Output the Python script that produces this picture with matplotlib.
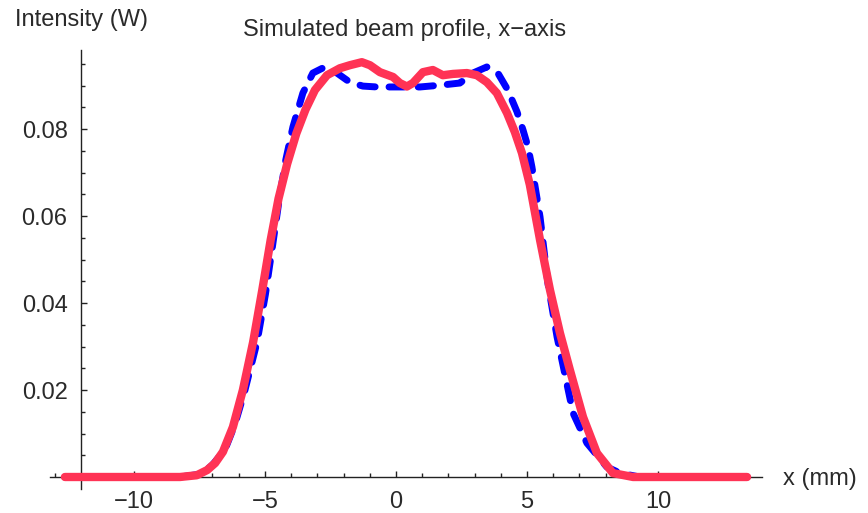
import numpy as np
import matplotlib
matplotlib.use("Agg")
import matplotlib.pyplot as plt
from matplotlib.ticker import MultipleLocator, FixedLocator

plt.rcParams['font.family'] = ['Liberation Sans', 'DejaVu Sans']

# measured profile (red, solid)
x_meas = [-12.63, -10.0, -8.24, -7.60, -7.20, -6.90, -6.60, -6.22, -5.84, -5.45,
          -5.10, -4.78, -4.48, -4.15, -3.80, -3.45, -3.09, -2.63, -2.14, -1.76,
          -1.30, -0.99, -0.61, -0.11, 0.15, 0.42, 0.65, 1.03, 1.41, 1.79,
          2.18, 2.71, 3.09, 3.47, 3.85, 4.24, 4.54, 4.81, 5.11, 5.50,
          5.88, 6.26, 6.64, 7.14, 7.67, 8.28, 9.05, 11.0, 13.4]
y_meas = [0.0, 0.0, 0.0, 0.0004, 0.0016, 0.0032, 0.0058, 0.0115, 0.0200, 0.0310,
          0.0430, 0.0545, 0.0640, 0.0720, 0.0790, 0.0845, 0.0890, 0.0924, 0.0940, 0.0947,
          0.0954, 0.0947, 0.0931, 0.0920, 0.0906, 0.0898, 0.0906, 0.0931, 0.0936, 0.0924,
          0.0927, 0.0929, 0.0924, 0.0908, 0.0883, 0.0837, 0.0793, 0.0745, 0.0672, 0.0545,
          0.0430, 0.0331, 0.0246, 0.0138, 0.0055, 0.0009, 0.0, 0.0, 0.0]

# simulated profile (blue, dashed)
x_sim = [-12.63, -10.0, -8.24, -7.40, -7.00, -6.53, -6.15, -5.76, -5.30, -4.98,
         -4.70, -4.45, -4.20, -3.93, -3.55, -3.17, -2.71, -2.25, -1.76, -1.26,
         -0.73, -0.11, 0.42, 0.92, 1.68, 2.44, 2.94, 3.47, 3.89, 4.27,
         4.62, 4.85, 5.04, 5.19, 5.50, 5.80, 6.15, 6.76, 7.29, 8.05,
         8.55, 9.3, 11.0, 13.4]
y_sim = [0.0, 0.0, 0.0, 0.0007, 0.0028, 0.0062, 0.0120, 0.0200, 0.0310, 0.0420,
         0.0535, 0.0640, 0.0730, 0.0805, 0.0883, 0.0929, 0.0943, 0.0929, 0.0908, 0.0899,
         0.0897, 0.0897, 0.0897, 0.0897, 0.0901, 0.0906, 0.0929, 0.0943, 0.0929, 0.0890,
         0.0840, 0.0798, 0.0759, 0.0713, 0.0598, 0.0446, 0.0322, 0.0147, 0.0078, 0.0023,
         0.0009, 0.0, 0.0, 0.0]

x_major = [-10, -5, 0, 5, 10]
x_labels = ["\u221210", "\u22125", "0", "5", "10"]
y_major = [0.02, 0.04, 0.06, 0.08]
y_labels = ["0.02", "0.04", "0.06", "0.08"]

text_color = '#2a2a2a'
fs = 17

fig = plt.figure(figsize=(8.68, 5.13), dpi=100)
ax = fig.add_axes([50 / 868, 1 - 489 / 513, 712 / 868, 439 / 513])
ax.set_xlim(-13.2, 13.97)
ax.set_ylim(-0.00276, 0.0982)

line_sim, = ax.plot(x_sim, y_sim, color='#0000FF', linewidth=5,
                    dash_capstyle='round', solid_capstyle='round',
                    dash_joinstyle='round', clip_on=False)
line_sim.set_dashes([2.2, 2.0])
ax.plot(x_meas, y_meas, color='#FF3355', linewidth=6,
        solid_capstyle='round', solid_joinstyle='round', clip_on=False)

for s in ['top', 'right']:
    ax.spines[s].set_visible(False)
ax.spines['left'].set_position(('data', -12))
ax.spines['bottom'].set_position(('data', 0))
for s in ['left', 'bottom']:
    ax.spines[s].set_color('#222222')
    ax.spines[s].set_linewidth(1.0)
    ax.spines[s].set_zorder(0.5)

ax.xaxis.set_major_locator(FixedLocator(x_major))
ax.set_xticklabels(x_labels)
ax.xaxis.set_minor_locator(MultipleLocator(1))
ax.yaxis.set_major_locator(FixedLocator(y_major))
ax.set_yticklabels(y_labels)
ax.yaxis.set_minor_locator(FixedLocator(np.arange(1, 20) * 0.005))

ax.tick_params(axis='both', which='major', direction='in', length=4.5, width=1.0,
               color='#222222', labelsize=fs, labelcolor=text_color)
ax.tick_params(axis='both', which='minor', direction='in', length=3, width=1.0,
               color='#222222')
ax.tick_params(axis='x', which='major', pad=10)
ax.tick_params(axis='y', which='major', pad=10)
ax.patch.set_alpha(0)

fig.text(405 / 868, 1 - 30 / 513, "Simulated beam profile, x\u2212axis", ha='center', va='center',
         fontsize=fs, color=text_color)
fig.text(15 / 868, 1 - 20 / 513, "Intensity (W)", ha='left', va='center',
         fontsize=fs, color=text_color)
fig.text(783 / 868, 1 - 479 / 513, "x (mm)", ha='left', va='center',
         fontsize=fs, color=text_color)

fig.savefig("out.png", dpi=100)
